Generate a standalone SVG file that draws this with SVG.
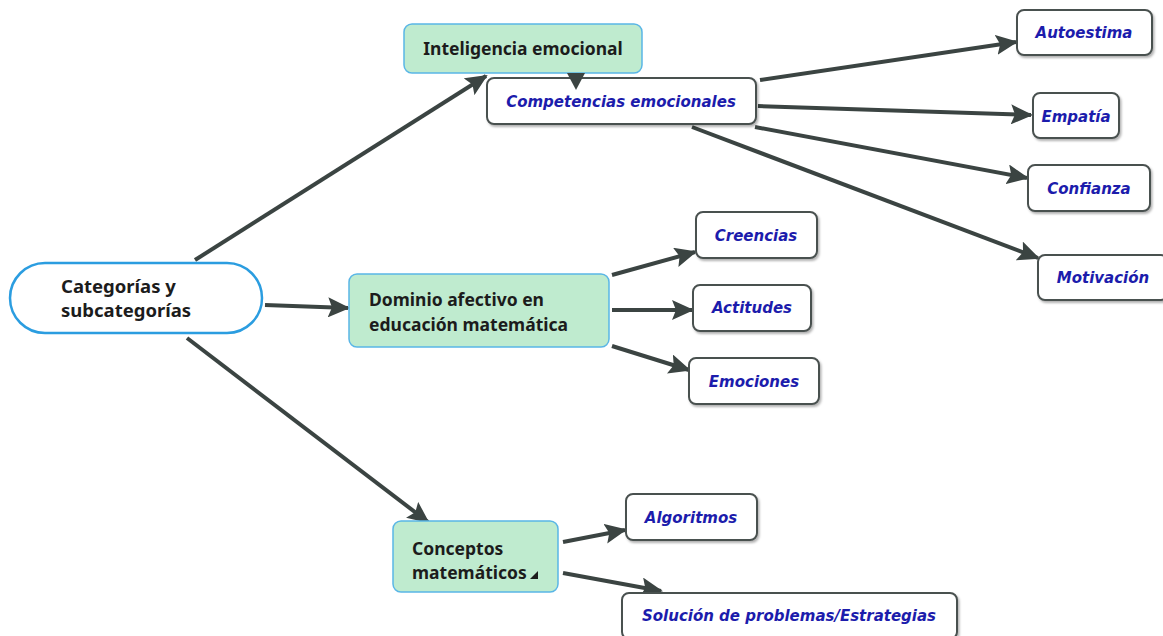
<svg xmlns="http://www.w3.org/2000/svg" width="1163" height="636" viewBox="0 0 1163 636">
<style>
.green{fill:#bfebcf;stroke:#5ab6e6;stroke-width:1.5}
.leaf{fill:#fff;stroke:#4a5150;stroke-width:2;filter:url(#sh)}
.bt{font-family:"Noto Sans","Open Sans",sans-serif;font-weight:bold;font-size:17.5px;fill:#1c1c1c}
.lt{font-family:"DejaVu Sans",Verdana,sans-serif;font-weight:bold;font-style:italic;font-size:15px;fill:#1c1cac;text-anchor:middle}
.c{stroke:#3b4442;stroke-width:4;fill:none;marker-end:url(#ah)}
</style>
<defs>
<marker id="ah" markerUnits="userSpaceOnUse" markerWidth="22" markerHeight="20" refX="20" refY="10" orient="auto">
<path d="M0,0 L22,10 L0,20 L4,10 z" fill="#3b4442"/>
</marker>
<filter id="sh" x="-10%" y="-20%" width="130%" height="150%">
<feDropShadow dx="1.5" dy="2" stdDeviation="1.2" flood-color="#000" flood-opacity="0.3"/>
</filter>
</defs>
<rect width="1163" height="636" fill="#fff"/>
<g id="connectors">
<line class="c" x1="195" y1="260" x2="486" y2="76"/>
<line class="c" x1="265" y1="305" x2="348" y2="308"/>
<line class="c" x1="187" y1="338" x2="428" y2="522"/>
<line class="c" x1="760" y1="80" x2="1016" y2="42"/>
<line class="c" x1="758" y1="106" x2="1031" y2="115"/>
<line class="c" x1="755" y1="127" x2="1027" y2="178"/>
<line class="c" x1="692" y1="127" x2="1038" y2="258"/>
<line class="c" x1="612" y1="275" x2="695" y2="252"/>
<line class="c" x1="612" y1="310" x2="692" y2="310"/>
<line class="c" x1="612" y1="346" x2="689" y2="370"/>
<line class="c" x1="563" y1="542" x2="625" y2="530"/>
<line class="c" x1="563" y1="573" x2="661" y2="591"/>
</g>
<g id="n-root">
<rect x="10" y="263" width="252" height="70" rx="35" fill="#fff" stroke="#2b9de0" stroke-width="2.5"/>
<text x="61" y="293" class="bt" style="font-size:18.5px">Categorías y</text>
<text x="61" y="317" class="bt" style="font-size:18.5px">subcategorías</text>
</g>
<g id="n-inteligencia">
<rect x="404" y="24" width="238" height="49" rx="8" class="green"/>
<text x="523" y="55" class="bt" text-anchor="middle">Inteligencia emocional</text>
</g>
<g id="n-competencias">
<rect x="487" y="78" width="269" height="46" rx="7" class="leaf"/>
<text x="621" y="107" class="lt">Competencias emocionales</text>
</g>
<g id="connector-ie">
<path d="M567,73 L585,73 L576,90 z" fill="#3b4442"/>
</g>
<g id="n-dominio">
<rect x="349" y="274" width="260" height="73" rx="8" class="green"/>
<text x="369" y="306" class="bt">Dominio afectivo en</text>
<text x="369" y="331" class="bt">educación matemática</text>
</g>
<g id="n-conceptos">
<rect x="393" y="521" width="165" height="71" rx="8" class="green"/>
<text x="412" y="555" class="bt">Conceptos</text>
<text x="412" y="579" class="bt">matemáticos</text>
<path d="M530,579 L538,579 L538,571 z" fill="#1c1c1c"/>
</g>
<g id="n-autoestima">
<rect x="1017" y="10" width="135" height="45" rx="7" class="leaf"/>
<text x="1084" y="38" class="lt">Autoestima</text>
</g>
<g id="n-empatia">
<rect x="1033" y="93" width="86" height="45" rx="7" class="leaf"/>
<text x="1076" y="122" class="lt">Empatía</text>
</g>
<g id="n-confianza">
<rect x="1028" y="165" width="122" height="46" rx="7" class="leaf"/>
<text x="1089" y="194" class="lt">Confianza</text>
</g>
<g id="n-motivacion">
<rect x="1038" y="255" width="130" height="45" rx="7" class="leaf"/>
<text x="1103" y="283" class="lt">Motivación</text>
</g>
<g id="n-creencias">
<rect x="696" y="212" width="121" height="46" rx="7" class="leaf"/>
<text x="756" y="241" class="lt">Creencias</text>
</g>
<g id="n-actitudes">
<rect x="693" y="285" width="118" height="46" rx="7" class="leaf"/>
<text x="752" y="313" class="lt">Actitudes</text>
</g>
<g id="n-emociones">
<rect x="689" y="358" width="130" height="46" rx="7" class="leaf"/>
<text x="754" y="387" class="lt">Emociones</text>
</g>
<g id="n-algoritmos">
<rect x="626" y="494" width="131" height="46" rx="7" class="leaf"/>
<text x="691" y="523" class="lt">Algoritmos</text>
</g>
<g id="n-solucion">
<rect x="622" y="593" width="335" height="46" rx="7" class="leaf"/>
<text x="789" y="621" class="lt">Solución de problemas/Estrategias</text>
</g>
</svg>
